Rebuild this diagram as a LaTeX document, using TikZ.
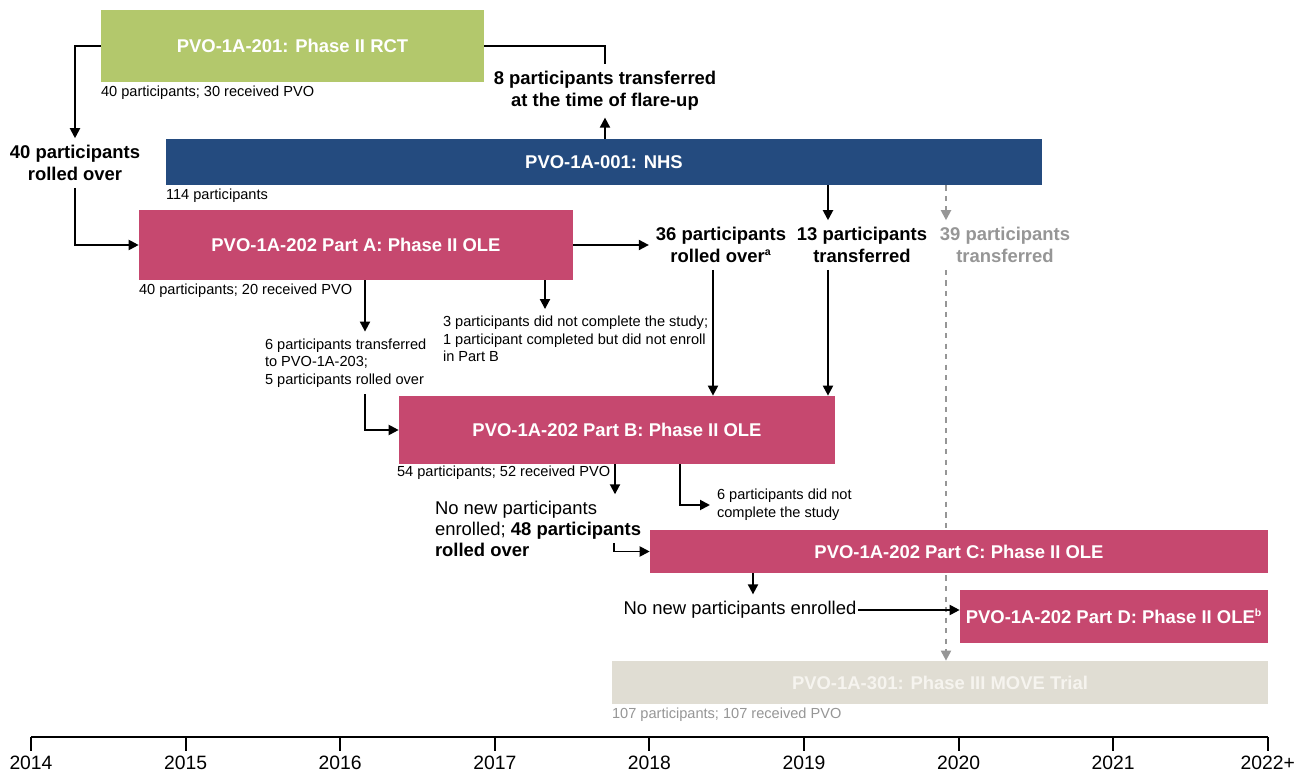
\documentclass[tikz,border=0pt]{standalone}
\usepackage{fontspec}
\setmainfont{Liberation Sans}
\usepackage{tikz}
\usetikzlibrary{calc,positioning,arrows.meta,backgrounds}

\definecolor{rctgreen}{RGB}{179,200,108}
\definecolor{nhsblue}{RGB}{36,75,127}
\definecolor{olepink}{RGB}{198,72,111}
\definecolor{movebeige}{RGB}{224,221,211}
\definecolor{movetext}{RGB}{246,244,239}
\definecolor{fadegrey}{RGB}{150,150,150}

\newcommand{\fnmark}[1]{\textsuperscript{\fontsize{6}{6}\selectfont #1}}

\begin{document}
\begin{tikzpicture}[
        x=0.02cm, y=-0.02cm,
        trial/.style={inner sep=0pt, text=white, font=\bfseries\fontsize{10.5}{12.5}\selectfont},
        caption/.style={inner sep=0pt, font=\fontsize{8.3}{10}\selectfont},
        count/.style={inner sep=0pt, outer sep=4pt, align=center, font=\bfseries\fontsize{10.5}{12.5}\selectfont},
        note/.style={inner sep=0pt, outer sep=4pt, align=left, font=\fontsize{8.3}{10}\selectfont},
        plain/.style={inner sep=0pt, outer sep=4pt, align=left, font=\fontsize{10.5}{11.9}\selectfont},
        link/.style={line width=1.1pt, -{Triangle[length=0.2cm,width=0.2cm]}},
        faded/.style={fadegrey, line width=1.1pt, dash pattern=on 3pt off 3pt, -{Triangle[length=0.2cm,width=0.2cm]}},
        year/.style={inner sep=0pt, anchor=base, font=\fontsize{11}{13}\selectfont}
    ]
    \useasboundingbox (0,0) rectangle (1306,773);

    % studies
    \node[trial, fill=rctgreen, minimum width=7.66cm, minimum height=1.44cm] (rct) at (292.5,46) {PVO-1A-201: Phase II RCT};
    \node[trial, fill=nhsblue, minimum width=17.52cm, minimum height=0.92cm] (nhs) at (604,162) {PVO-1A-001: NHS};
    \node[trial, fill=olepink, minimum width=8.68cm, minimum height=1.40cm] (parta) at (356,245) {PVO-1A-202 Part A: Phase II OLE};
    \node[trial, fill=olepink, minimum width=8.72cm, minimum height=1.36cm] (partb) at (617,430) {PVO-1A-202 Part B: Phase II OLE};
    \node[trial, fill=olepink, minimum width=12.36cm, minimum height=0.86cm] (partc) at (959,551.5) {PVO-1A-202 Part C: Phase II OLE};
    \node[trial, fill=olepink, minimum width=6.16cm, minimum height=1.06cm] (partd) at (1114,616.5) {PVO-1A-202 Part D: Phase II OLE\fnmark{b}};
    \node[trial, fill=movebeige, text=movetext, minimum width=13.12cm, minimum height=0.86cm] (move) at (940,682.5) {PVO-1A-301: Phase III MOVE Trial};

    \node[caption, below right=0.06cm and 0cm of rct.south west] (rctcap) {40 participants; 30 received PVO};
    \node[caption, below right=0.06cm and 0cm of nhs.south west] (nhscap) {114 participants};
    \node[caption, below right=0.06cm and 0cm of parta.south west] (partacap) {40 participants; 20 received PVO};
    \node[caption, below right=0.02cm and -0.04cm of partb.south west] (partbcap) {54 participants; 52 received PVO};
    \node[caption, fadegrey, below right=0.06cm and 0cm of move.south west] (movecap) {107 participants; 107 received PVO};

    % flows
    \node[count] (rolled40) at (75,163) {40 participants\\rolled over};
    \node[count] (flare) at (605,91) {8 participants transferred\\at the time of flare-up};
    \node[count] (r36) at (721,245) {36 participants\\rolled over\fnmark{a}};
    \node[count] (t13) at (862,245) {13 participants\\transferred};
    \node[count, text=fadegrey] (t39) at (1005,245) {39 participants\\transferred};
    \node[note, anchor=west] (note3) at (436,339) {3 participants did not complete the study;\\1 participant completed but did not enroll\\in Part B};
    \node[note, anchor=west] (note6) at (258,363) {6 participants transferred\\to PVO-1A-203;\\5 participants rolled over};
    \node[note, anchor=west] (didnot6) at (710,505) {6 participants did not\\complete the study};
    \node[plain, anchor=west] (roll48) at (428,529) {No new participants\\enrolled; \textbf{48 participants}\\\textbf{rolled over}};
    \node[plain] (nonew) at (740,610) {No new participants enrolled};

    \coordinate (cA6) at (365,0);
    \coordinate (cA3) at (545,0);
    \coordinate (c36) at (713,0);
    \coordinate (c13) at (828,0);
    \coordinate (c39) at (946,0);
    \coordinate (c48) at (615,0);
    \coordinate (cB6) at (680,0);
    \coordinate (cC) at (753,0);
    \coordinate (hook48) at (614,543);

    \draw[link] (rct.west) -| (rolled40.north);
    \draw[link] (rolled40.south) |- (parta.west);
    \draw[line width=1.1pt] (rct.east) -| (flare.north);
    \draw[link] (nhs.north -| flare) -- (flare.south);
    \draw[link] (nhs.south -| c13) -- (t13.north -| c13);
    \draw[link] (t13.south -| c13) -- (partb.north -| c13);
    \draw[link] (parta.east) -- (r36.west);
    \draw[link] (r36.south -| c36) -- (partb.north -| c36);
    \draw[link] (parta.south -| cA3) -- (note3.north -| cA3);
    \draw[link] (parta.south -| cA6) -- (note6.north -| cA6);
    \draw[link] (note6.south -| cA6) |- (partb.west);
    \draw[link] (partb.south -| c48) -- (roll48.north -| c48);
    \draw[link] (hook48) |- (partc.west);
    \draw[link] (partb.south -| cB6) |- (didnot6.west);
    \draw[link] (partc.south -| cC) -- (nonew.north -| cC);
    \draw[link] ([xshift=-3pt]nonew.east) -- (nonew.east -| partd.west);

    \begin{pgfonlayer}{background}
        \fill[white] (0,0) rectangle (1306,773);
        \draw[faded] (nhs.south -| c39) -- (t39.north -| c39);
        \draw[faded] (t39.south -| c39) -- (move.north -| c39);
    \end{pgfonlayer}

    % time axis
    \draw[line width=1.1pt] (31,737) -- (1268,737);
    \foreach \yr [count=\i from 0] in {2014,2015,2016,2017,2018,2019,2020,2021,2022+} {
        \draw[line width=1.1pt] (31+154.6*\i,737) -- ++(0,14);
        \node[year] (y\i) at (31+154.6*\i,769) {\yr};
    }
\end{tikzpicture}
\end{document}
